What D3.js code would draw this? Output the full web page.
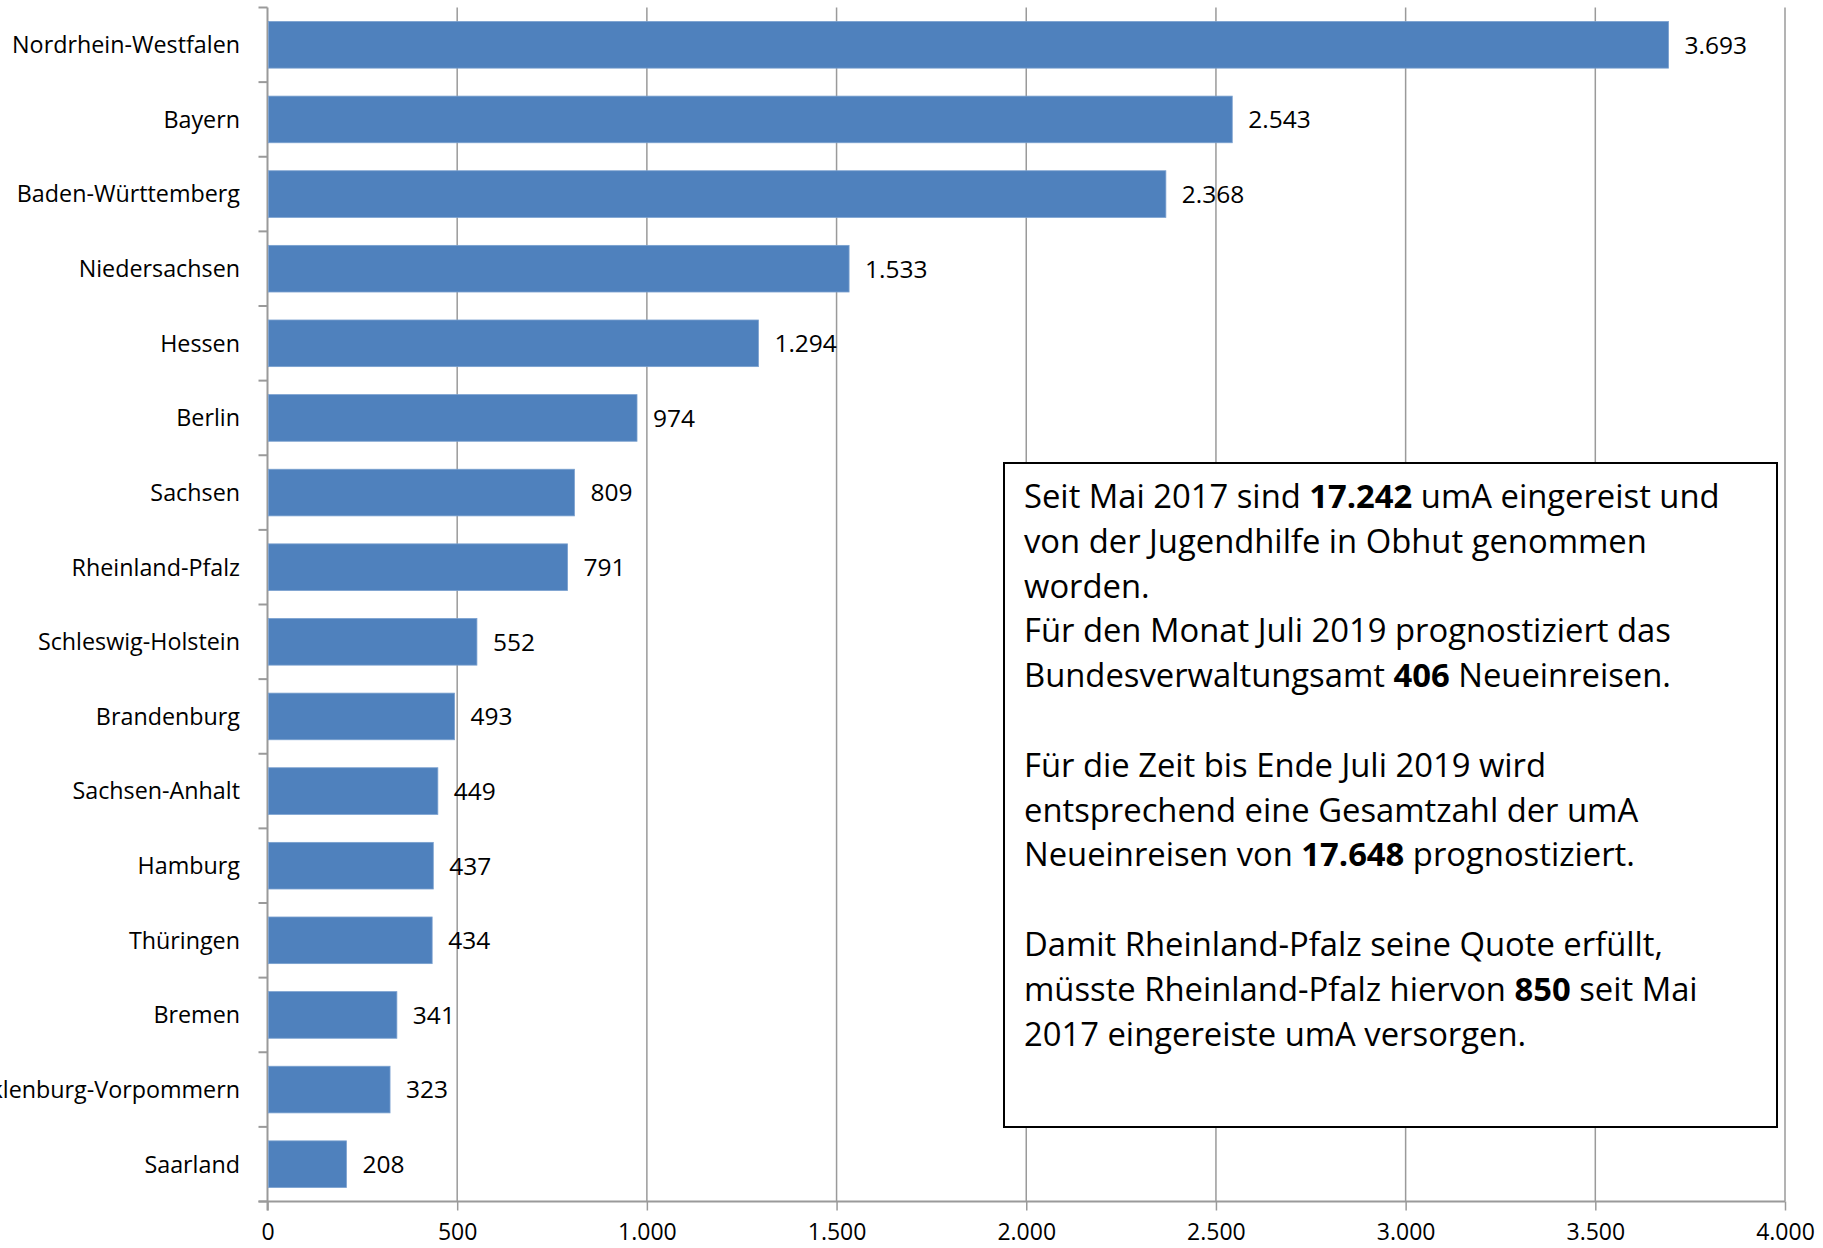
<!DOCTYPE html>
<html>
<head>
<meta charset="utf-8">
<script src="https://cdn.jsdelivr.net/npm/d3@7"></script>
<style>
  html, body { margin: 0; padding: 0; background: #fff; }
  svg { display: block; }
</style>
</head>
<body>
<div id="chart"></div>
<script>
const categories = [
  "Nordrhein-Westfalen", "Bayern", "Baden-Württemberg", "Niedersachsen", "Hessen",
  "Berlin", "Sachsen", "Rheinland-Pfalz", "Schleswig-Holstein", "Brandenburg",
  "Sachsen-Anhalt", "Hamburg", "Thüringen", "Bremen", "Mecklenburg-Vorpommern", "Saarland"
];
const values = [3693, 2543, 2368, 1533, 1294, 974, 809, 791, 552, 493, 449, 437, 434, 341, 323, 208];
const xTicks = [0, 500, 1000, 1500, 2000, 2500, 3000, 3500, 4000];

// text box lines: [text, bold]
const boxLines = [
  [["Seit Mai 2017 sind ", false], ["17.242", true], [" umA eingereist und", false]],
  [["von der Jugendhilfe in Obhut genommen", false]],
  [["worden.", false]],
  [["Für den Monat Juli 2019 prognostiziert das", false]],
  [["Bundesverwaltungsamt ", false], ["406", true], [" Neueinreisen.", false]],
  [],
  [["Für die Zeit bis Ende Juli 2019 wird", false]],
  [["entsprechend eine Gesamtzahl der umA", false]],
  [["Neueinreisen von ", false], ["17.648", true], [" prognostiziert.", false]],
  [],
  [["Damit Rheinland-Pfalz seine Quote erfüllt,", false]],
  [["müsste Rheinland-Pfalz hiervon ", false], ["850", true], [" seit Mai", false]],
  [["2017 eingereiste umA versorgen.", false]]
];

const width = 1823, height = 1248;
const plot = { left: 267.5, right: 1785, top: 7.5, bottom: 1201.5 };
const font = "'Open Sans', sans-serif";
const gridColor = "#9a9a9a";

const de = d3.formatLocale({ decimal: ",", thousands: ".", grouping: [3], currency: ["", "€"] });
const fmt = de.format(",");

const data = categories.map((c, i) => ({ cat: c, value: values[i] }));

const svg = d3.select("#chart").append("svg")
  .attr("width", width)
  .attr("height", height);

const x = d3.scaleLinear().domain([0, 4000]).range([plot.left, plot.right]);
const y = d3.scaleBand().domain(categories)
  .range([plot.top, plot.bottom])
  .paddingInner(0.375)
  .paddingOuter(0.1875);

// vertical gridlines
svg.append("g")
  .selectAll("line")
  .data(xTicks.slice(1))
  .join("line")
  .attr("x1", d => x(d)).attr("x2", d => x(d))
  .attr("y1", plot.top).attr("y2", plot.bottom)
  .attr("stroke", gridColor)
  .attr("stroke-width", 1.5);

// x axis
const xAxis = svg.append("g")
  .attr("transform", `translate(0,${plot.bottom})`)
  .call(d3.axisBottom(x).tickValues(xTicks).tickSize(9).tickPadding(13).tickFormat(fmt).tickSizeOuter(0));
xAxis.select(".domain").remove();
xAxis.selectAll(".tick line").attr("stroke", gridColor).attr("stroke-width", 1.5);
xAxis.selectAll(".tick text")
  .attr("fill", "#000")
  .style("font-family", font)
  .style("font-size", "23px");
xAxis.append("line")
  .attr("x1", plot.left - 9).attr("x2", plot.right)
  .attr("stroke", gridColor).attr("stroke-width", 2);

// y axis line + boundary ticks
const step = y.step();
const bounds = d3.range(categories.length + 1).map(i => plot.top + i * step);
svg.append("line")
  .attr("x1", plot.left).attr("x2", plot.left)
  .attr("y1", plot.top).attr("y2", plot.bottom + 9)
  .attr("stroke", gridColor).attr("stroke-width", 2);
svg.append("g")
  .selectAll("line")
  .data(bounds)
  .join("line")
  .attr("x1", plot.left - 9).attr("x2", plot.left)
  .attr("y1", d => d).attr("y2", d => d)
  .attr("stroke", gridColor).attr("stroke-width", 2);

// bars
svg.append("g")
  .selectAll("rect")
  .data(data)
  .join("rect")
  .attr("x", x(0) + 1)
  .attr("y", d => y(d.cat))
  .attr("width", d => x(d.value) - x(0) - 1)
  .attr("height", y.bandwidth())
  .attr("fill", "#4f81bd")
  .attr("stroke", "#7aa0cf")
  .attr("stroke-width", 0.8);

// value labels
svg.append("g")
  .selectAll("text")
  .data(data)
  .join("text")
  .attr("x", d => x(d.value) + 16)
  .attr("y", d => y(d.cat) + y.bandwidth() / 2)
  .attr("dy", "0.36em")
  .style("font-family", font)
  .style("font-size", "24.5px")
  .attr("fill", "#000")
  .text(d => fmt(d.value));

// category labels
svg.append("g")
  .selectAll("text")
  .data(data)
  .join("text")
  .attr("x", 240)
  .attr("y", d => y(d.cat) + y.bandwidth() / 2)
  .attr("dy", "0.36em")
  .attr("text-anchor", "end")
  .style("font-family", font)
  .style("font-size", "23.3px")
  .attr("fill", "#000")
  .text(d => d.cat);

// text box
const box = { x: 1004, y: 463, w: 773, h: 664 };
svg.append("rect")
  .attr("x", box.x).attr("y", box.y)
  .attr("width", box.w).attr("height", box.h)
  .attr("fill", "#fff")
  .attr("stroke", "#000")
  .attr("stroke-width", 2);

const boxText = svg.append("g")
  .attr("transform", `translate(${box.x + 20},0)`);
const tg = boxText.append("g");
boxLines.forEach((segs, i) => {
  const t = tg.append("text")
    .attr("x", 0)
    .attr("y", 508 + i * 44.8)
    .style("font-family", font)
    .style("font-size", "33px")
    .attr("fill", "#000");
  segs.forEach(([s, b]) => {
    t.append("tspan")
      .style("font-weight", b ? "700" : "400")
      .attr("xml:space", "preserve")
      .text(s);
  });
});
// squeeze horizontally to match the narrow face of the original
const first = tg.select("text").node();
const k = 696 / first.getComputedTextLength();
tg.attr("transform", `scale(${k},1)`);
</script>
</body>
</html>
